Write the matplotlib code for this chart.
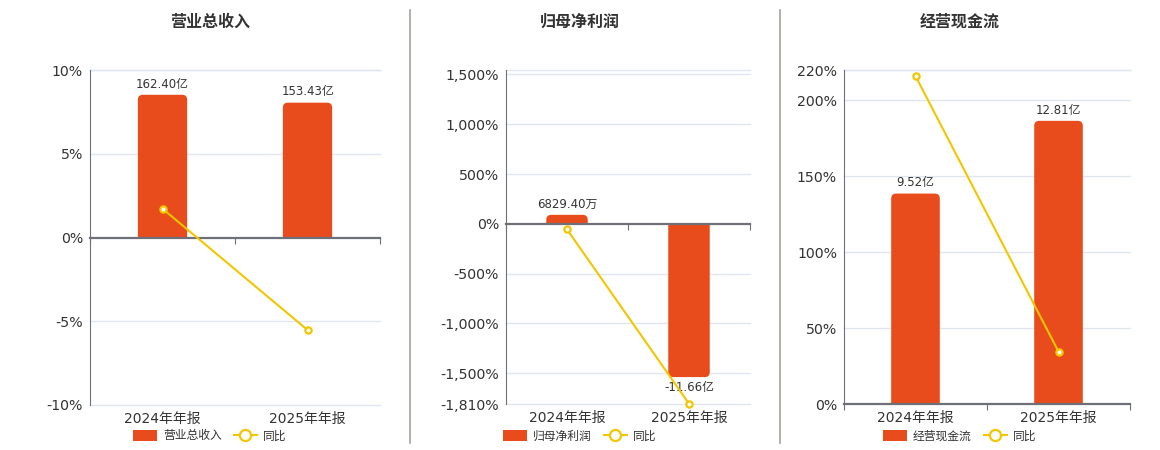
import numpy as np
import matplotlib.pyplot as plt
from matplotlib.lines import Line2D
from matplotlib.patches import Patch, PathPatch
from matplotlib.path import Path

plt.rcParams['font.family'] = ['DejaVu Sans', 'Noto Sans CJK SC']

periods = ['2024年年报', '2025年年报']
titles = ['营业总收入', '归母净利润', '经营现金流']

# 金额（亿元）
revenue = [162.40, 153.43]
net_profit = [0.682940, -11.66]
cash_flow = [9.52, 12.81]
# 同比（%）
revenue_yoy = [1.72, -5.52]
net_profit_yoy = [-56.0, -1807.3]
cash_flow_yoy = [216.0, 34.56]

bar_texts = [['162.40亿', '153.43亿'], ['6829.40万', '-11.66亿'], ['9.52亿', '12.81亿']]

pct_ticks = [[-10, -5, 0, 5, 10],
             [-1810, -1500, -1000, -500, 0, 500, 1000, 1500],
             [0, 50, 100, 150, 200, 220]]
pct_lims = [(-10, 10), (-1810, 1545), (0, 220)]
# 柱子所在隐藏轴的上限（亿元），零点与百分比轴对齐
bar_tops = [190.6, 11.70, 15.11]

amounts = [revenue, net_profit, cash_flow]
yoys = [revenue_yoy, net_profit_yoy, cash_flow_yoy]

BAR_C = '#E84B1C'
LINE_C = '#F2C600'
AXIS_C = '#6E7079'
GRID_C = '#E0E6F1'
TEXT_C = '#333333'

W, H = 1160, 450
fig = plt.figure(figsize=(W / 100, H / 100), dpi=100)

# 每个面板的绘图区（像素）：左、右、上、下
boxes = [(90, 380, 70, 405), (506, 750, 70, 404), (844, 1130, 70, 404)]
centers = [210, 580, 960]


def round_tops(axb, bars, xupp, yupp, r_px=5):
    # 柱子远离零点的一端做圆角
    for rect in bars:
        x0, w = rect.get_x(), rect.get_width()
        y0, h = rect.get_y(), rect.get_height()
        x1, y1 = x0 + w, y0 + h
        r = min(r_px, abs(h) / yupp, w / xupp / 2)
        rx = r * xupp
        ry = r * yupp * np.sign(h)
        verts = [(x0, y0), (x0, y1 - ry), (x0, y1), (x0 + rx, y1),
                 (x1 - rx, y1), (x1, y1), (x1, y1 - ry), (x1, y0), (x0, y0)]
        codes = [Path.MOVETO, Path.LINETO, Path.CURVE3, Path.CURVE3,
                 Path.LINETO, Path.CURVE3, Path.CURVE3, Path.LINETO, Path.CLOSEPOLY]
        axb.add_patch(PathPatch(Path(verts, codes), fc=BAR_C, ec='none', zorder=2))
        rect.set_visible(False)


x = np.arange(len(periods))
for i in range(3):
    l, r, t, b = boxes[i]
    ax = fig.add_axes([l / W, 1 - b / H, (r - l) / W, (b - t) / H])
    axb = ax.twinx()
    ax.set_zorder(axb.get_zorder() + 1)
    ax.patch.set_visible(False)

    lo, hi = pct_lims[i]
    scale = bar_tops[i] / hi
    ax.set_ylim(lo, hi)
    axb.set_ylim(lo * scale, hi * scale)
    ax.set_xlim(-0.5, 1.5)
    axb.set_xlim(-0.5, 1.5)

    # 网格线画在柱子下面
    grid_vals = list(pct_ticks[i]) + [hi]
    for g in grid_vals:
        if g != 0:
            axb.axhline(g * scale, color=GRID_C, lw=1, zorder=0, clip_on=False)

    bars = axb.bar(x, amounts[i], width=0.34, color=BAR_C, zorder=2)
    axb.bar_label(bars, labels=bar_texts[i], padding=3, fontsize=8.5, color=TEXT_C)
    xupp = 2.0 / (r - l)
    yupp = (hi - lo) * scale / (b - t)
    round_tops(axb, bars, xupp, yupp)
    axb.set_yticks([])
    for s in axb.spines.values():
        s.set_visible(False)

    ax.plot(x, yoys[i], color=LINE_C, lw=1.5, marker='o', ms=4.5,
            mfc='white', mec=LINE_C, mew=1.6, clip_on=False, zorder=5)

    ax.set_yticks(pct_ticks[i])
    ax.set_yticklabels([f'{v:,}%' for v in pct_ticks[i]])
    ax.tick_params(axis='y', length=0, labelsize=10.2, labelcolor=TEXT_C, pad=5)

    ax.spines['top'].set_visible(False)
    ax.spines['right'].set_visible(False)
    ax.spines['left'].set_color(AXIS_C)
    ax.spines['left'].set_linewidth(0.8)
    ax.spines['bottom'].set_position(('data', 0))
    ax.spines['bottom'].set_color(AXIS_C)
    ax.spines['bottom'].set_linewidth(1.6)
    ax.set_xticks([-0.5, 0.5, 1.5])
    ax.set_xticklabels([])
    ax.tick_params(axis='x', direction='out', length=4, width=0.8, color=AXIS_C)

    for j, p in enumerate(periods):
        ax.annotate(p, (j, 0), xycoords=('data', 'axes fraction'), xytext=(0, -5),
                    textcoords='offset points', ha='center', va='top',
                    fontsize=10, color=TEXT_C)

    fig.text(centers[i] / W, 1 - 22 / H, titles[i], ha='center', va='center',
             fontsize=11.5, fontweight='bold', color=TEXT_C)

    handles = [Patch(facecolor=BAR_C, edgecolor='none'),
               Line2D([], [], color=LINE_C, lw=1.5, marker='o', ms=8,
                      mfc='white', mec=LINE_C, mew=1.6)]
    fig.legend(handles, [titles[i], '同比'], loc='center',
               bbox_to_anchor=(centers[i] / W, 1 - 436 / H), ncol=2, frameon=False,
               fontsize=8.5, handlelength=2.0, handleheight=1.1,
               columnspacing=1.0, handletextpad=0.5, labelcolor=TEXT_C)

# 面板分隔线
for sx in (410, 780):
    fig.add_artist(Line2D([sx / W, sx / W], [1 - 10 / H, 1 - 443 / H],
                          color='#A3A39C', lw=1.2))

fig.savefig('out.png', dpi=100)
